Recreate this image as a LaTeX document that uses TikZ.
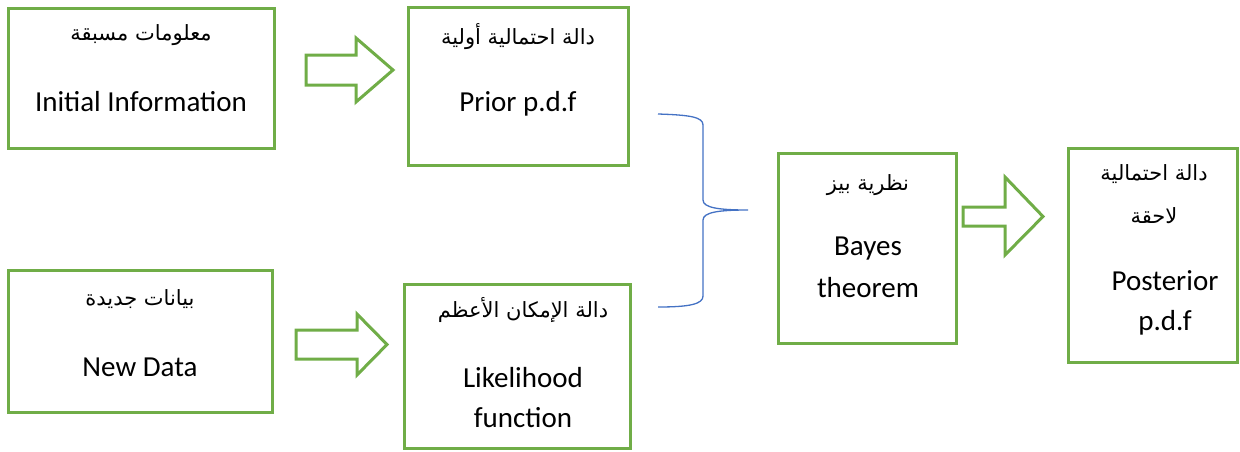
\documentclass[tikz,border=0pt]{standalone}
\usepackage{fontspec}
\setmainfont{Carlito}
\newfontfamily\arabicfont[Script=Arabic]{DejaVu Sans}
\TeXXeTstate=1
\usepackage{xcolor}
\definecolor{boxgreen}{HTML}{70AD47}
\definecolor{braceblue}{HTML}{4472C4}
\newcommand{\ar}[1]{{\arabicfont\fontsize{21}{25}\selectfont\beginR #1\endR}}

\begin{document}
\begin{tikzpicture}[x=1pt, y=-1pt,
    box/.style={draw=boxgreen, line width=3pt, rectangle, inner sep=0pt, outer sep=0pt},
    txt/.style={anchor=base, inner sep=0pt, font=\fontsize{29}{35}\selectfont},
    blockarrow/.style={draw=boxgreen, line width=3pt, line join=miter, fill=white}]
    \useasboundingbox (0,0) rectangle (1240,451);
    % boxes
    \node[box, minimum width=266pt, minimum height=140pt] (initbox) at (141,78) {};
    \node[box, minimum width=220pt, minimum height=158pt] (priorbox) at (518,86) {};
    \node[box, minimum width=264pt, minimum height=142pt] (databox) at (140,341.5) {};
    \node[box, minimum width=226pt, minimum height=164pt] (likebox) at (517,366) {};
    \node[box, minimum width=178pt, minimum height=190pt] (bayesbox) at (867,248) {};
    \node[box, minimum width=169pt, minimum height=214pt] (postbox) at (1152.5,255) {};
    % texts
    \node[txt] (initar) at (141,40) {\ar{معلومات مسبقة}};
    \node[txt] (initen) at (141,111) {Initial Information};
    \node[txt] (priorar) at (518,44) {\ar{دالة احتمالية أولية}};
    \node[txt] (prioren) at (518,111) {Prior p.d.f};
    \node[txt] (dataar) at (140,305) {\ar{بيانات جديدة}};
    \node[txt] (dataen) at (140,376) {New Data};
    \node[txt] (likear) at (523,317) {\ar{دالة الإمكان الأعظم}};
    \node[txt] (likeen) at (523,387) {Likelihood};
    \node[txt] (likefn) at (523,427) {function};
    \node[txt] (bayesar) at (868,190) {\ar{نظرية بيز}};
    \node[txt] (bayesen) at (868,255) {Bayes};
    \node[txt] (bayesth) at (868,297) {theorem};
    \node[txt] (postar) at (1154,180) {\ar{دالة احتمالية}};
    \node[txt] (postla) at (1154,223) {\ar{لاحقة}};
    \node[txt] (posten) at (1165,290) {Posterior};
    \node[txt] (postpd) at (1165,330) {p.d.f};
    % block arrows
    \draw[blockarrow] (306,55) -- (356,55) -- (356,38) -- (393,70) -- (356,102) -- (356,85) -- (306,85) -- cycle;
    \draw[blockarrow] (296,330) -- (357,330) -- (357,314) -- (387,344.5) -- (357,375) -- (357,359) -- (296,359) -- cycle;
    \draw[blockarrow] (963,207) -- (1005,207) -- (1005,177) -- (1043,216.5) -- (1005,255) -- (1005,226) -- (963,226) -- cycle;
    % brace
    \coordinate (bracetip) at (748,210);
    \draw[braceblue, line width=1.3pt] (658,114) .. controls (690,115) and (703,117) .. (703,125) -- (703,200)
        .. controls (703,208) and (720,210) .. (bracetip)
        .. controls (720,210) and (703,212) .. (703,220) -- (703,296)
        .. controls (703,304) and (690,307) .. (658,307);
\end{tikzpicture}
\end{document}
